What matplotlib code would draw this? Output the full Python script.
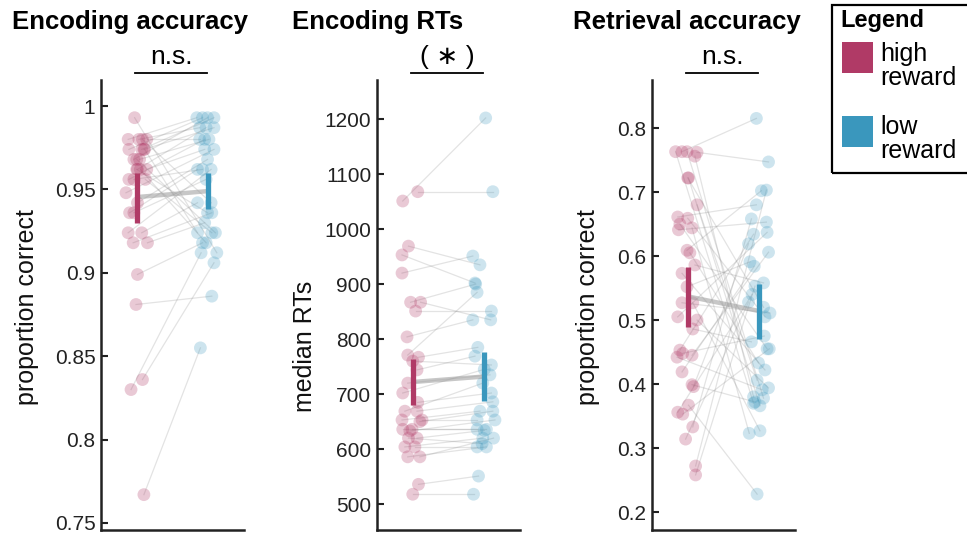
import numpy as np
import matplotlib
matplotlib.use('Agg')
import matplotlib.pyplot as plt
import matplotlib.transforms as mtransforms
from matplotlib.patches import Rectangle
from matplotlib.ticker import FormatStrFormatter

plt.rcParams['font.family'] = ['Liberation Sans', 'DejaVu Sans']

high_col = '#b03a66'
low_col = '#3a97bd'

# ---- encoding accuracy (paired: high[i] <-> low[i])
enc_acc_high = [0.993, 0.980, 0.980, 0.980, 0.980, 0.974, 0.974, 0.974, 0.974, 0.968, 0.968,
                0.968, 0.962, 0.962, 0.962, 0.962, 0.956, 0.956, 0.956, 0.948, 0.942, 0.936,
                0.936, 0.924, 0.924, 0.918, 0.918, 0.899, 0.881, 0.836, 0.830, 0.767]
enc_acc_low = [0.912, 0.993, 0.987, 0.980, 0.942, 0.993, 0.993, 0.987, 0.924, 0.993, 0.980,
               0.924, 0.987, 0.974, 0.936, 0.918, 0.980, 0.962, 0.924, 0.974, 0.968, 0.962,
               0.956, 0.962, 0.942, 0.936, 0.930, 0.918, 0.886, 0.906, 0.912, 0.855]
enc_acc_jit_high = [-0.03, -0.12, 0.03, 0.14, 0.08, -0.11, 0.07, 0.10, 0.11, -0.04, 0.04,
                    0.0, 0.01, 0.14, 0.0, 0.05, -0.11, -0.04, 0.12, -0.15, 0.01, -0.10,
                    -0.04, -0.12, 0.07, -0.05, 0.15, 0.01, -0.01, 0.08, -0.08, 0.10]
enc_acc_jit_low = [0.12, -0.16, -0.12, -0.12, 0.04, -0.08, 0.08, 0.08, -0.15, -0.01, 0.01,
                   0.10, -0.03, -0.05, -0.01, -0.03, -0.05, -0.08, 0.05, 0.08, -0.01, -0.15,
                   -0.03, 0.04, -0.15, 0.05, -0.05, -0.08, 0.05, 0.08, -0.10, -0.11]
enc_acc_mean = [0.9454, 0.9490]
enc_acc_ci = [(0.930, 0.960), (0.938, 0.960)]

# ---- encoding RTs
enc_rt_high = [1051, 1068, 969, 953, 920, 867, 867, 851, 804, 771, 767, 744, 760, 720, 702, 685,
               669, 669, 653, 653, 650, 636, 636, 633, 620, 604, 604, 586, 586, 536, 518, 620]
enc_rt_low = [1202, 1068, 935, 902, 951, 900, 835, 851, 835, 885, 785, 769, 753, 735, 745, 702,
              720, 686, 669, 653, 669, 636, 636, 653, 634, 620, 604, 604, 620, 551, 518, 610]
enc_rt_jit_high = [-0.14, 0.07, -0.06, -0.15, -0.15, -0.03, 0.11, 0.04, -0.08, -0.07, 0.08,
                   0.06, 0.0, -0.07, -0.14, 0.07, -0.11, 0.06, -0.15, 0.13, 0.10, -0.14,
                   -0.01, -0.04, 0.06, -0.11, 0.03, -0.07, 0.10, 0.08, 0.0, -0.06]
enc_rt_jit_low = [0.02, 0.12, -0.06, -0.13, -0.16, -0.12, 0.09, 0.10, -0.16, -0.10, -0.09,
                  -0.13, 0.10, 0.08, 0.0, 0.10, -0.02, 0.12, -0.06, -0.10, 0.12, -0.10,
                  0.03, 0.15, 0.0, -0.02, -0.10, 0.03, 0.13, -0.08, -0.15, -0.03]
enc_rt_mean = [722, 732]
enc_rt_ci = [(680, 764), (688, 777)]

# ---- retrieval accuracy
ret_acc_high = [0.763, 0.763, 0.763, 0.762, 0.756, 0.722, 0.722, 0.680, 0.661, 0.659, 0.650,
                0.641, 0.644, 0.609, 0.605, 0.586, 0.573, 0.552, 0.527, 0.527, 0.505, 0.500,
                0.486, 0.453, 0.448, 0.445, 0.442, 0.419, 0.399, 0.396, 0.367, 0.356, 0.353,
                0.333, 0.314, 0.272, 0.258]
ret_acc_low = [0.370, 0.815, 0.378, 0.747, 0.380, 0.520, 0.366, 0.406, 0.680, 0.505, 0.455,
               0.653, 0.323, 0.702, 0.433, 0.558, 0.422, 0.591, 0.511, 0.327, 0.637, 0.394,
               0.466, 0.634, 0.475, 0.606, 0.391, 0.584, 0.372, 0.619, 0.228, 0.540, 0.455,
               0.658, 0.528, 0.703, 0.553]
ret_acc_jit_high = [-0.17, -0.08, -0.01, 0.13, 0.10, 0.0, 0.01, 0.13, -0.14, 0.0, -0.11,
                    -0.13, 0.06, -0.01, 0.03, 0.10, -0.08, -0.01, -0.08, 0.07, -0.14, 0.13,
                    0.07, -0.11, -0.07, 0.06, -0.15, -0.08, 0.06, 0.08, 0.01, -0.14, -0.07,
                    0.07, -0.03, 0.11, 0.11]
ret_acc_jit_low = [-0.08, -0.04, 0.06, 0.13, -0.08, 0.06, 0.01, -0.03, -0.04, 0.08, 0.11,
                   0.10, -0.14, 0.03, -0.01, 0.06, 0.08, -0.13, 0.15, 0.01, 0.11, 0.13,
                   -0.11, -0.08, 0.07, 0.13, 0.04, -0.07, -0.06, -0.15, -0.03, -0.10, 0.14,
                   -0.11, -0.15, 0.10, -0.06]
ret_acc_mean = [0.537, 0.514]
ret_acc_ci = [(0.489, 0.583), (0.470, 0.556)]

titles = ['Encoding accuracy', 'Encoding RTs', 'Retrieval accuracy']
ylabels = ['proportion correct', 'median RTs', 'proportion correct']
sig_labels = ['n.s.', '( \u2217 )', 'n.s.']
yticks = [[0.75, 0.8, 0.85, 0.9, 0.95, 1.0],
          [500, 600, 700, 800, 900, 1000, 1100, 1200],
          [0.2, 0.3, 0.4, 0.5, 0.6, 0.7, 0.8]]
ylims = [(0.7458, 1.0156), (453, 1271), (0.172, 0.875)]

panels = [
    (enc_acc_high, enc_acc_low, enc_acc_jit_high, enc_acc_jit_low, enc_acc_mean, enc_acc_ci),
    (enc_rt_high, enc_rt_low, enc_rt_jit_high, enc_rt_jit_low, enc_rt_mean, enc_rt_ci),
    (ret_acc_high, ret_acc_low, ret_acc_jit_high, ret_acc_jit_low, ret_acc_mean, ret_acc_ci),
]

W, H = 967, 535
fig = plt.figure(figsize=(W / 100, H / 100), dpi=100)

ax_left = [101, 377, 652]
title_x = [12, 292, 573]
ylab_x = [-0.434, -0.42, -0.364]
ylab_y = [0.495, 0.407, 0.495]

for i, (hi, lo, jh, jl, mn, ci) in enumerate(panels):
    ax = fig.add_axes([ax_left[i] / W, 5 / H, 143 / W, 450 / H])
    xh = 1 + np.array(jh)
    xl = 2 + np.array(jl)
    for a, b, c, d in zip(xh, xl, hi, lo):
        ax.plot([a, b], [c, d], color='0.5', alpha=0.22, lw=0.9, zorder=1)
    ax.scatter(xh, hi, s=85, color=high_col, alpha=0.27, edgecolors='none', zorder=2)
    ax.scatter(xl, lo, s=85, color=low_col, alpha=0.25, edgecolors='none', zorder=2)
    # group means + intervals
    ax.plot([1, 2], mn, color='0.6', alpha=0.55, lw=3.2, solid_capstyle='butt', zorder=3)
    ax.plot([1, 1], ci[0], color=high_col, lw=3.8, solid_capstyle='butt', zorder=4)
    ax.plot([2, 2], ci[1], color=low_col, lw=3.8, solid_capstyle='butt', zorder=4)

    ax.set_xlim(0.5, 2.5)
    ax.set_ylim(*ylims[i])
    ax.set_xticks([])
    ax.set_yticks(yticks[i])
    ax.yaxis.set_major_formatter(FormatStrFormatter('%g'))
    ax.tick_params(axis='y', direction='in', length=5, width=1.5, labelsize=15,
                   pad=4, colors='#222222', labelcolor='#222222')
    for s in ['top', 'right']:
        ax.spines[s].set_visible(False)
    for s in ['left', 'bottom']:
        ax.spines[s].set_linewidth(1.8)
        ax.spines[s].set_color('#222222')
    ax.set_ylabel(ylabels[i], fontsize=18, color='#111111')
    ax.yaxis.set_label_coords(ylab_x[i], ylab_y[i])

    trans = mtransforms.blended_transform_factory(ax.transData, ax.transAxes)
    ax.plot([0.98, 1.98], [1.0156, 1.0156], color='black', lw=1.3, transform=trans, clip_on=False)
    ax.text(1.48, 1.052, sig_labels[i], transform=trans, ha='center', va='center',
            fontsize=19, family=['Liberation Sans', 'DejaVu Sans'])

    fig.text(title_x[i] / W, 1 - 22 / H, titles[i], fontsize=18.5, fontweight='bold',
             ha='left', va='center')

# legend box
fig.add_artist(Rectangle((832 / W, 1 - 173 / H), 150 / W, 168 / H, transform=fig.transFigure,
                         fill=False, lw=1.6, ec='black'))
fig.text(840 / W, 1 - 21 / H, 'Legend', fontsize=17, fontweight='bold', ha='left', va='center')
fig.add_artist(Rectangle((842 / W, 1 - 73 / H), 31 / W, 31 / H, transform=fig.transFigure,
                         fc=high_col, ec='none'))
fig.add_artist(Rectangle((842 / W, 1 - 147 / H), 31 / W, 31 / H, transform=fig.transFigure,
                         fc=low_col, ec='none'))
fig.text(880 / W, 1 - 66 / H, 'high\nreward', fontsize=18, ha='left', va='center', linespacing=0.95)
fig.text(880 / W, 1 - 139 / H, 'low\nreward', fontsize=18, ha='left', va='center', linespacing=0.95)

fig.savefig('out.png', dpi=100)
